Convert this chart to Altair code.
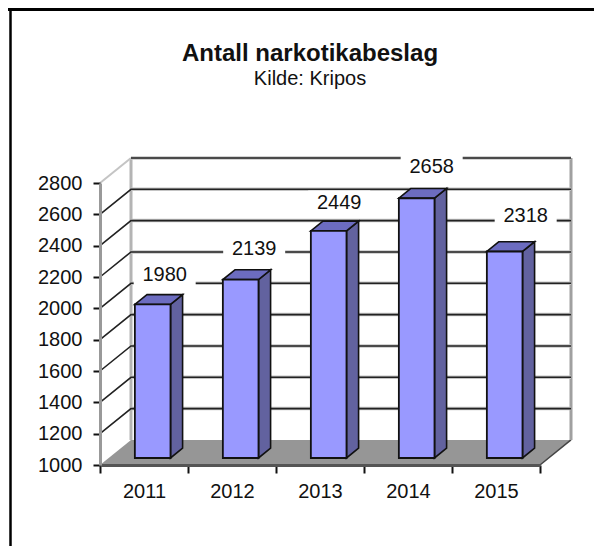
import altair as alt
import pandas as pd

YEARS = ["2011", "2012", "2013", "2014", "2015"]
VALUES = [1980, 2139, 2449, 2658, 2318]
TICKS = [1000, 1200, 1400, 1600, 1800, 2000, 2200, 2400, 2600, 2800]

FONT = "Liberation Sans"
Y_MIN, Y_MAX = 1000, 2800
N = len(YEARS)
DX = 31 / 88      # depth of the oblique box, category units
DY = 160          # depth of the oblique box, value units
BAR_W = 0.405
D0, D1 = 0.28, 0.67   # bar's front and back position inside the box

xs = alt.Scale(domain=[0, N], nice=False, zero=False)
ys = alt.Scale(domain=[Y_MIN, Y_MAX], nice=False, zero=False)
X = alt.X("x:Q", scale=xs, axis=None)
Y = alt.Y("y:Q", scale=ys, axis=None)


def path(pts, mark_kw):
    df = pd.DataFrame([{"x": x, "y": y, "o": i} for i, (x, y) in enumerate(pts)])
    return alt.Chart(df).mark_line(clip=False, **mark_kw).encode(x=X, y=Y, order="o:Q")


layers = []

# axes layer (band x scale: ticks on band edges, labels in the middle)
axes = alt.Chart(pd.DataFrame({"year": YEARS, "v": VALUES})).mark_point(opacity=0).encode(
    x=alt.X("year:N", title=None, scale=alt.Scale(paddingInner=0, paddingOuter=0),
            axis=alt.Axis(tickBand="extent", labelAngle=0, labelFont=FONT, labelFontSize=20,
                          labelColor="#111", tickColor="#111", tickSize=8, tickWidth=2,
                          domainColor="#555", domainWidth=3, labelPadding=8, zindex=2)),
    y=alt.Y("v:Q", title=None, scale=ys,
            axis=alt.Axis(values=TICKS, format="d", labelFont=FONT, labelFontSize=20, labelColor="#111",
                          tickColor="#111", tickSize=7, tickWidth=2, domainColor="#999",
                          domainWidth=3, labelPadding=11, grid=False, zindex=2)),
)
layers.append(axes)

# floor
floor_df = pd.DataFrame([
    {"y": Y_MIN, "x": 0, "x2": N},
    {"y": Y_MIN + DY, "x": DX, "x2": N + DX},
])
layers.append(alt.Chart(floor_df).mark_area(orient="horizontal", color="#969696").encode(
    y=Y, x=X, x2="x2:Q"))
layers.append(path([(N, Y_MIN), (N + DX, Y_MIN + DY)], {"color": "#444", "strokeWidth": 1.5}))

# walls: edges
layers.append(path([(DX, Y_MIN + DY), (DX, Y_MAX + DY)], {"color": "#b4b4b4", "strokeWidth": 3}))
layers.append(path([(N + DX, Y_MIN + DY), (N + DX, Y_MAX + DY)], {"color": "#a0a0a0", "strokeWidth": 3}))
layers.append(path([(0, Y_MAX), (DX, Y_MAX + DY)], {"color": "#c4c4c4", "strokeWidth": 2}))
layers.append(path([(DX, Y_MAX + DY), (N + DX, Y_MAX + DY)], {"color": "#c4c4c4", "strokeWidth": 3.5}))
layers.append(path([(DX, Y_MAX + DY), (N + DX, Y_MAX + DY)], {"color": "#222", "strokeWidth": 1.5}))

# gridlines: slanted on the left wall, straight on the back wall
for t in TICKS[1:-1]:
    layers.append(path([(DX, t + DY), (N + DX, t + DY)], {"color": "#c4c4c4", "strokeWidth": 3.5}))
    layers.append(path([(0, t), (DX, t + DY), (N + DX, t + DY)], {"color": "#222", "strokeWidth": 1.6}))

# bars
rows = []
for i, (yr, v) in enumerate(zip(YEARS, VALUES)):
    left = i + 0.5 - BAR_W / 2 + D0 * DX
    right = left + BAR_W
    base = Y_MIN + D0 * DY
    top = v + D0 * DY
    rows.append(dict(year=yr, left=left, right=right, base=base, top=top))
bars = pd.DataFrame(rows)

side, cap = [], []
for r in rows:
    depth_x = (D1 - D0) * DX
    depth_y = (D1 - D0) * DY
    side.append(dict(year=r["year"], x=r["right"], y=r["top"], y2=r["base"]))
    side.append(dict(year=r["year"], x=r["right"] + depth_x, y=r["top"] + depth_y, y2=r["base"] + depth_y))
    cap.append(dict(year=r["year"], y=r["top"], x=r["left"], x2=r["right"]))
    cap.append(dict(year=r["year"], y=r["top"] + depth_y, x=r["left"] + depth_x, x2=r["right"] + depth_x))

layers.append(alt.Chart(pd.DataFrame(side)).mark_area(color="#62629f", stroke="#111", strokeWidth=1.6).encode(
    x=X, y=Y, y2="y2:Q", detail="year:N"))
layers.append(alt.Chart(pd.DataFrame(cap)).mark_area(orient="horizontal", color="#6c6cc0", stroke="#111", strokeWidth=1.6).encode(
    y=Y, x=X, x2="x2:Q", detail="year:N"))
layers.append(alt.Chart(bars).mark_rect(color="#9999ff", stroke="#111", strokeWidth=1.8).encode(
    x=alt.X("left:Q", scale=xs, axis=None), x2="right:Q",
    y=alt.Y("top:Q", scale=ys, axis=None), y2="base:Q"))

# value labels on white plates
nudges = [(12, -29), (13.5, -31), (10.5, -28), (15, -31), (21, -35)]
for r, v, (nx, ny) in zip(rows, VALUES, nudges):
    d = pd.DataFrame([{"x": (r["left"] + r["right"]) / 2, "y": r["top"], "t": str(v)}])
    layers.append(alt.Chart(d).mark_rect(width=62, height=25, color="white", xOffset=nx, yOffset=ny).encode(x=X, y=Y))
    layers.append(alt.Chart(d).mark_text(font=FONT, fontSize=20, color="#111", baseline="middle",
                                         align="center", xOffset=nx, yOffset=ny).encode(x=X, y=Y, text="t:N"))

# frame lines at the top and left of the picture
layers.append(alt.Chart(pd.DataFrame({"a": [0]})).mark_rule(color="black", strokeWidth=3).encode(
    x=alt.value(-92), x2=alt.value(494), y=alt.value(-173.5)))
layers.append(alt.Chart(pd.DataFrame({"a": [0]})).mark_rule(color="black", strokeWidth=2.5).encode(
    x=alt.value(-89.5), y=alt.value(-173.5), y2=alt.value(363)))

chart = alt.layer(*layers).resolve_scale(x="independent").resolve_axis(y="independent").properties(
    width=440, height=282,
    autosize="none",
    padding={"left": 92, "top": 175, "right": 54, "bottom": 81},
    background="white",
    title=alt.TitleParams(
        text="Antall narkotikabeslag", subtitle="Kilde: Kripos",
        font=FONT, fontSize=24, fontWeight="bold", color="#111",
        subtitleFont=FONT, subtitleFontSize=20, subtitleColor="#111", subtitlePadding=3,
        anchor="middle", dx=-10, offset=-81,
    ),
).configure_view(stroke=None)

chart.save("out.html", embed_options={"renderer": "svg", "actions": False})
